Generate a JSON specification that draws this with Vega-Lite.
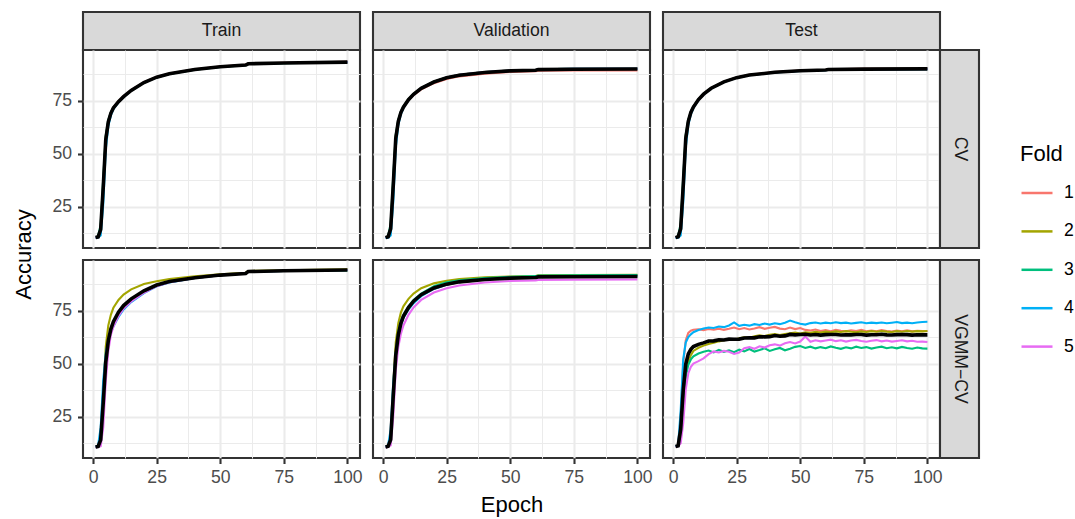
{
"$schema": "https://vega.github.io/schema/vega-lite/v6.json",
"background": "white",
"padding": {"left": 11, "top": 10, "right": 5, "bottom": 5},
"config": {
  "font": "Liberation Sans",
  "view": {"stroke": "#333333", "strokeWidth": 2.1},
  "axis": {"tickCount": 20, "labelColor": "#4D4D4D", "labelFontSize": 17.6, "titleFontSize": 22, "titleFontWeight": "normal", "titleColor": "#000000", "tickColor": "#333333", "tickWidth": 2.1, "tickSize": 5.5, "domain": false, "gridColor": "#EBEBEB", "labelPadding": 4.5, "labelOverlap": false, "labelFlush": false, "titlePadding": 9},
  "legend": {"symbolType": "stroke", "symbolSize": 961, "symbolStrokeWidth": 2.5, "labelFontSize": 17.6, "titleFontSize": 22, "titleFontWeight": "normal", "titleColor": "#000000", "labelColor": "#000000", "rowPadding": 12.4, "labelOffset": 10, "titlePadding": 10, "padding": 0}
},
"datasets": {
"ct": [
{"f":1,"e":1,"a":10.5},{"f":1,"e":2,"a":10.8},{"f":1,"e":3,"a":15},{"f":1,"e":4,"a":36},{"f":1,"e":5,"a":58},{"f":1,"e":6,"a":65.5},{"f":1,"e":7,"a":69.3},{"f":1,"e":8,"a":71.8},{"f":1,"e":10,"a":74.7},{"f":1,"e":12,"a":77},{"f":1,"e":15,"a":79.9},{"f":1,"e":20,"a":83.6},{"f":1,"e":25,"a":86.1},{"f":1,"e":30,"a":87.7},{"f":1,"e":40,"a":89.7},{"f":1,"e":50,"a":91.0},{"f":1,"e":60,"a":91.8},{"f":1,"e":61,"a":92.4},{"f":1,"e":75,"a":92.8},{"f":1,"e":100,"a":93.2},
{"f":2,"e":1,"a":10.7},{"f":2,"e":2,"a":10.9},{"f":2,"e":3,"a":14.5},{"f":2,"e":4,"a":35},{"f":2,"e":5,"a":57.5},{"f":2,"e":6,"a":65.3},{"f":2,"e":7,"a":69.2},{"f":2,"e":8,"a":71.6},{"f":2,"e":10,"a":74.6},{"f":2,"e":12,"a":76.9},{"f":2,"e":15,"a":79.8},{"f":2,"e":20,"a":83.5},{"f":2,"e":25,"a":86},{"f":2,"e":30,"a":87.6},{"f":2,"e":40,"a":89.6},{"f":2,"e":50,"a":90.9},{"f":2,"e":60,"a":91.7},{"f":2,"e":61,"a":92.3},{"f":2,"e":75,"a":92.7},{"f":2,"e":100,"a":93.1},
{"f":3,"e":1,"a":10.6},{"f":3,"e":2,"a":11.2},{"f":3,"e":3,"a":16.5},{"f":3,"e":4,"a":38},{"f":3,"e":5,"a":58.5},{"f":3,"e":6,"a":65.8},{"f":3,"e":7,"a":69.4},{"f":3,"e":8,"a":71.7},{"f":3,"e":10,"a":74.5},{"f":3,"e":12,"a":76.8},{"f":3,"e":15,"a":79.7},{"f":3,"e":20,"a":83.4},{"f":3,"e":25,"a":85.9},{"f":3,"e":30,"a":87.5},{"f":3,"e":40,"a":89.5},{"f":3,"e":50,"a":90.8},{"f":3,"e":60,"a":91.6},{"f":3,"e":61,"a":92.2},{"f":3,"e":75,"a":92.6},{"f":3,"e":100,"a":93.0},
{"f":4,"e":1,"a":10.4},{"f":4,"e":2,"a":10.5},{"f":4,"e":3,"a":11.5},{"f":4,"e":4,"a":26},{"f":4,"e":5,"a":52},{"f":4,"e":6,"a":63},{"f":4,"e":7,"a":68},{"f":4,"e":8,"a":71},{"f":4,"e":10,"a":74.2},{"f":4,"e":12,"a":76.6},{"f":4,"e":15,"a":79.7},{"f":4,"e":20,"a":83.5},{"f":4,"e":25,"a":86},{"f":4,"e":30,"a":87.6},{"f":4,"e":40,"a":89.6},{"f":4,"e":50,"a":90.9},{"f":4,"e":60,"a":91.7},{"f":4,"e":61,"a":92.3},{"f":4,"e":75,"a":92.7},{"f":4,"e":100,"a":93.1},
{"f":5,"e":1,"a":10.6},{"f":5,"e":2,"a":10.8},{"f":5,"e":3,"a":14},{"f":5,"e":4,"a":35},{"f":5,"e":5,"a":57},{"f":5,"e":6,"a":65},{"f":5,"e":7,"a":69},{"f":5,"e":8,"a":71.5},{"f":5,"e":10,"a":74.5},{"f":5,"e":12,"a":76.8},{"f":5,"e":15,"a":79.8},{"f":5,"e":20,"a":83.5},{"f":5,"e":25,"a":86},{"f":5,"e":30,"a":87.6},{"f":5,"e":40,"a":89.6},{"f":5,"e":50,"a":90.9},{"f":5,"e":60,"a":91.7},{"f":5,"e":61,"a":92.3},{"f":5,"e":75,"a":92.7},{"f":5,"e":100,"a":93.1}
],
"cv": [
{"f":1,"e":1,"a":10.6},{"f":1,"e":2,"a":11.0},{"f":1,"e":3,"a":15.5},{"f":1,"e":4,"a":37},{"f":1,"e":5,"a":58.5},{"f":1,"e":6,"a":65.6},{"f":1,"e":7,"a":69.4},{"f":1,"e":8,"a":71.8},{"f":1,"e":10,"a":75.2},{"f":1,"e":12,"a":77.6},{"f":1,"e":15,"a":80.3},{"f":1,"e":20,"a":83.2},{"f":1,"e":25,"a":85.2},{"f":1,"e":30,"a":86.4},{"f":1,"e":40,"a":87.7},{"f":1,"e":50,"a":88.5},{"f":1,"e":60,"a":88.8},{"f":1,"e":61,"a":89.1},{"f":1,"e":75,"a":89.2},{"f":1,"e":100,"a":89.2},
{"f":2,"e":1,"a":10.5},{"f":2,"e":2,"a":10.9},{"f":2,"e":3,"a":15},{"f":2,"e":4,"a":36},{"f":2,"e":5,"a":58},{"f":2,"e":6,"a":65.5},{"f":2,"e":7,"a":69.6},{"f":2,"e":8,"a":72.1},{"f":2,"e":10,"a":75.6},{"f":2,"e":12,"a":78.1},{"f":2,"e":15,"a":80.9},{"f":2,"e":20,"a":83.9},{"f":2,"e":25,"a":85.9},{"f":2,"e":30,"a":87.1},{"f":2,"e":40,"a":88.4},{"f":2,"e":50,"a":89.1},{"f":2,"e":60,"a":89.4},{"f":2,"e":61,"a":89.7},{"f":2,"e":75,"a":89.9},{"f":2,"e":100,"a":90.0},
{"f":3,"e":1,"a":10.4},{"f":3,"e":2,"a":11.3},{"f":3,"e":3,"a":17},{"f":3,"e":4,"a":39},{"f":3,"e":5,"a":59},{"f":3,"e":6,"a":66},{"f":3,"e":7,"a":69.8},{"f":3,"e":8,"a":72.2},{"f":3,"e":10,"a":75.6},{"f":3,"e":12,"a":78.1},{"f":3,"e":15,"a":80.9},{"f":3,"e":20,"a":83.9},{"f":3,"e":25,"a":85.9},{"f":3,"e":30,"a":87.1},{"f":3,"e":40,"a":88.4},{"f":3,"e":50,"a":89.1},{"f":3,"e":60,"a":89.4},{"f":3,"e":61,"a":89.7},{"f":3,"e":75,"a":89.9},{"f":3,"e":100,"a":90.0},
{"f":4,"e":1,"a":10.3},{"f":4,"e":2,"a":10.4},{"f":4,"e":3,"a":11.5},{"f":4,"e":4,"a":27},{"f":4,"e":5,"a":53},{"f":4,"e":6,"a":63.5},{"f":4,"e":7,"a":68.5},{"f":4,"e":8,"a":71.5},{"f":4,"e":10,"a":75.3},{"f":4,"e":12,"a":77.9},{"f":4,"e":15,"a":80.8},{"f":4,"e":20,"a":83.8},{"f":4,"e":25,"a":85.8},{"f":4,"e":30,"a":87},{"f":4,"e":40,"a":88.3},{"f":4,"e":50,"a":89},{"f":4,"e":60,"a":89.4},{"f":4,"e":61,"a":89.7},{"f":4,"e":75,"a":89.9},{"f":4,"e":100,"a":90.0},
{"f":5,"e":1,"a":10.5},{"f":5,"e":2,"a":10.8},{"f":5,"e":3,"a":14.5},{"f":5,"e":4,"a":35},{"f":5,"e":5,"a":57.5},{"f":5,"e":6,"a":65.3},{"f":5,"e":7,"a":69.4},{"f":5,"e":8,"a":71.9},{"f":5,"e":10,"a":75.4},{"f":5,"e":12,"a":77.9},{"f":5,"e":15,"a":80.8},{"f":5,"e":20,"a":83.8},{"f":5,"e":25,"a":85.9},{"f":5,"e":30,"a":87.1},{"f":5,"e":40,"a":88.4},{"f":5,"e":50,"a":89.1},{"f":5,"e":60,"a":89.4},{"f":5,"e":61,"a":89.7},{"f":5,"e":75,"a":89.9},{"f":5,"e":100,"a":90.0}
],
"cs": [
{"f":1,"e":1,"a":10.6},{"f":1,"e":2,"a":11.0},{"f":1,"e":3,"a":15.5},{"f":1,"e":4,"a":37},{"f":1,"e":5,"a":58.5},{"f":1,"e":6,"a":65.8},{"f":1,"e":7,"a":69.7},{"f":1,"e":8,"a":72.2},{"f":1,"e":10,"a":75.6},{"f":1,"e":12,"a":78.1},{"f":1,"e":15,"a":80.9},{"f":1,"e":20,"a":83.9},{"f":1,"e":25,"a":85.9},{"f":1,"e":30,"a":87.1},{"f":1,"e":40,"a":88.4},{"f":1,"e":50,"a":89.1},{"f":1,"e":60,"a":89.5},{"f":1,"e":61,"a":89.7},{"f":1,"e":75,"a":89.9},{"f":1,"e":100,"a":90.0},
{"f":2,"e":1,"a":10.5},{"f":2,"e":2,"a":10.9},{"f":2,"e":3,"a":15},{"f":2,"e":4,"a":36},{"f":2,"e":5,"a":58},{"f":2,"e":6,"a":65.5},{"f":2,"e":7,"a":69.5},{"f":2,"e":8,"a":72},{"f":2,"e":10,"a":75.5},{"f":2,"e":12,"a":78},{"f":2,"e":15,"a":80.8},{"f":2,"e":20,"a":83.8},{"f":2,"e":25,"a":85.8},{"f":2,"e":30,"a":87},{"f":2,"e":40,"a":88.3},{"f":2,"e":50,"a":89},{"f":2,"e":60,"a":89.4},{"f":2,"e":61,"a":89.6},{"f":2,"e":75,"a":89.8},{"f":2,"e":100,"a":89.9},
{"f":3,"e":1,"a":10.4},{"f":3,"e":2,"a":11.3},{"f":3,"e":3,"a":17},{"f":3,"e":4,"a":39},{"f":3,"e":5,"a":59},{"f":3,"e":6,"a":66},{"f":3,"e":7,"a":69.8},{"f":3,"e":8,"a":72.2},{"f":3,"e":10,"a":75.6},{"f":3,"e":12,"a":78.1},{"f":3,"e":15,"a":80.8},{"f":3,"e":20,"a":83.8},{"f":3,"e":25,"a":85.8},{"f":3,"e":30,"a":87},{"f":3,"e":40,"a":88.3},{"f":3,"e":50,"a":89},{"f":3,"e":60,"a":89.4},{"f":3,"e":61,"a":89.6},{"f":3,"e":75,"a":89.8},{"f":3,"e":100,"a":89.9},
{"f":4,"e":1,"a":10.3},{"f":4,"e":2,"a":10.4},{"f":4,"e":3,"a":11.5},{"f":4,"e":4,"a":27},{"f":4,"e":5,"a":53},{"f":4,"e":6,"a":63.5},{"f":4,"e":7,"a":68.5},{"f":4,"e":8,"a":71.5},{"f":4,"e":10,"a":75.3},{"f":4,"e":12,"a":77.9},{"f":4,"e":15,"a":80.7},{"f":4,"e":20,"a":83.7},{"f":4,"e":25,"a":85.7},{"f":4,"e":30,"a":86.9},{"f":4,"e":40,"a":88.2},{"f":4,"e":50,"a":88.9},{"f":4,"e":60,"a":89.3},{"f":4,"e":61,"a":89.5},{"f":4,"e":75,"a":89.7},{"f":4,"e":100,"a":89.8},
{"f":5,"e":1,"a":10.5},{"f":5,"e":2,"a":10.8},{"f":5,"e":3,"a":14.5},{"f":5,"e":4,"a":35},{"f":5,"e":5,"a":57.5},{"f":5,"e":6,"a":65.3},{"f":5,"e":7,"a":69.4},{"f":5,"e":8,"a":71.9},{"f":5,"e":10,"a":75.4},{"f":5,"e":12,"a":77.9},{"f":5,"e":15,"a":80.8},{"f":5,"e":20,"a":83.8},{"f":5,"e":25,"a":85.8},{"f":5,"e":30,"a":87},{"f":5,"e":40,"a":88.3},{"f":5,"e":50,"a":89},{"f":5,"e":60,"a":89.4},{"f":5,"e":61,"a":89.6},{"f":5,"e":75,"a":89.8},{"f":5,"e":100,"a":89.9}
],
"vt": [
{"f":1,"e":1,"a":10.8},{"f":1,"e":2,"a":11},{"f":1,"e":3,"a":13},{"f":1,"e":4,"a":30},{"f":1,"e":5,"a":50},{"f":1,"e":6,"a":60},{"f":1,"e":7,"a":65.5},{"f":1,"e":8,"a":69},{"f":1,"e":10,"a":73.5},{"f":1,"e":12,"a":76.5},{"f":1,"e":15,"a":79.8},{"f":1,"e":20,"a":83.8},{"f":1,"e":25,"a":86.8},{"f":1,"e":30,"a":88.5},{"f":1,"e":40,"a":90.4},{"f":1,"e":50,"a":91.6},{"f":1,"e":60,"a":92.4},{"f":1,"e":61,"a":93.3},{"f":1,"e":75,"a":93.7},{"f":1,"e":100,"a":94.1},
{"f":2,"e":1,"a":10.9},{"f":2,"e":2,"a":11.1},{"f":2,"e":3,"a":14},{"f":2,"e":4,"a":36},{"f":2,"e":5,"a":58},{"f":2,"e":6,"a":68},{"f":2,"e":7,"a":73},{"f":2,"e":8,"a":76.3},{"f":2,"e":10,"a":80},{"f":2,"e":12,"a":82.5},{"f":2,"e":15,"a":85},{"f":2,"e":20,"a":87.5},{"f":2,"e":25,"a":88.8},{"f":2,"e":30,"a":89.8},{"f":2,"e":40,"a":91.1},{"f":2,"e":50,"a":92.1},{"f":2,"e":60,"a":92.8},{"f":2,"e":61,"a":93.6},{"f":2,"e":75,"a":94},{"f":2,"e":100,"a":94.4},
{"f":3,"e":1,"a":10.7},{"f":3,"e":2,"a":10.9},{"f":3,"e":3,"a":12.5},{"f":3,"e":4,"a":30},{"f":3,"e":5,"a":49},{"f":3,"e":6,"a":59},{"f":3,"e":7,"a":65},{"f":3,"e":8,"a":68.5},{"f":3,"e":10,"a":73},{"f":3,"e":12,"a":76.3},{"f":3,"e":15,"a":79.5},{"f":3,"e":20,"a":83.5},{"f":3,"e":25,"a":86.6},{"f":3,"e":30,"a":88.4},{"f":3,"e":40,"a":90.3},{"f":3,"e":50,"a":91.6},{"f":3,"e":60,"a":92.4},{"f":3,"e":61,"a":93.3},{"f":3,"e":75,"a":93.6},{"f":3,"e":100,"a":93.9},
{"f":4,"e":1,"a":10.8},{"f":4,"e":2,"a":11.5},{"f":4,"e":3,"a":20},{"f":4,"e":4,"a":42},{"f":4,"e":5,"a":55},{"f":4,"e":6,"a":61},{"f":4,"e":7,"a":64.5},{"f":4,"e":8,"a":67.5},{"f":4,"e":10,"a":72},{"f":4,"e":12,"a":75.5},{"f":4,"e":15,"a":79},{"f":4,"e":20,"a":83.2},{"f":4,"e":25,"a":86.4},{"f":4,"e":30,"a":88.2},{"f":4,"e":40,"a":90.3},{"f":4,"e":50,"a":91.6},{"f":4,"e":60,"a":92.4},{"f":4,"e":61,"a":93.3},{"f":4,"e":75,"a":93.7},{"f":4,"e":100,"a":94.1},
{"f":5,"e":1,"a":10.6},{"f":5,"e":2,"a":10.8},{"f":5,"e":3,"a":11.2},{"f":5,"e":4,"a":20},{"f":5,"e":5,"a":42},{"f":5,"e":6,"a":56},{"f":5,"e":7,"a":63.5},{"f":5,"e":8,"a":67.5},{"f":5,"e":10,"a":72.5},{"f":5,"e":12,"a":76},{"f":5,"e":15,"a":79.3},{"f":5,"e":20,"a":83.4},{"f":5,"e":25,"a":86.5},{"f":5,"e":30,"a":88.3},{"f":5,"e":40,"a":90.3},{"f":5,"e":50,"a":91.6},{"f":5,"e":60,"a":92.4},{"f":5,"e":61,"a":93.3},{"f":5,"e":75,"a":93.7},{"f":5,"e":100,"a":94.1}
],
"vv": [
{"f":1,"e":1,"a":10.8},{"f":1,"e":2,"a":11},{"f":1,"e":3,"a":13.5},{"f":1,"e":4,"a":33},{"f":1,"e":5,"a":53},{"f":1,"e":6,"a":63},{"f":1,"e":7,"a":68.5},{"f":1,"e":8,"a":72},{"f":1,"e":10,"a":76},{"f":1,"e":12,"a":79},{"f":1,"e":15,"a":82},{"f":1,"e":20,"a":85.3},{"f":1,"e":25,"a":87.2},{"f":1,"e":30,"a":88.3},{"f":1,"e":40,"a":89.5},{"f":1,"e":50,"a":90.2},{"f":1,"e":60,"a":90.5},{"f":1,"e":61,"a":90.8},{"f":1,"e":75,"a":90.9},{"f":1,"e":100,"a":91.0},
{"f":2,"e":1,"a":10.9},{"f":2,"e":2,"a":11.1},{"f":2,"e":3,"a":14},{"f":2,"e":4,"a":40},{"f":2,"e":5,"a":60},{"f":2,"e":6,"a":69},{"f":2,"e":7,"a":74},{"f":2,"e":8,"a":77},{"f":2,"e":10,"a":80.5},{"f":2,"e":12,"a":83},{"f":2,"e":15,"a":85.5},{"f":2,"e":20,"a":87.8},{"f":2,"e":25,"a":89},{"f":2,"e":30,"a":89.8},{"f":2,"e":40,"a":90.6},{"f":2,"e":50,"a":91},{"f":2,"e":60,"a":91.3},{"f":2,"e":61,"a":91.6},{"f":2,"e":75,"a":91.7},{"f":2,"e":100,"a":91.8},
{"f":3,"e":1,"a":10.7},{"f":3,"e":2,"a":10.9},{"f":3,"e":3,"a":13},{"f":3,"e":4,"a":34},{"f":3,"e":5,"a":55},{"f":3,"e":6,"a":65},{"f":3,"e":7,"a":70},{"f":3,"e":8,"a":73},{"f":3,"e":10,"a":77},{"f":3,"e":12,"a":80},{"f":3,"e":15,"a":83},{"f":3,"e":20,"a":86.5},{"f":3,"e":25,"a":88.3},{"f":3,"e":30,"a":89.3},{"f":3,"e":40,"a":90.3},{"f":3,"e":50,"a":90.9},{"f":3,"e":60,"a":91.2},{"f":3,"e":61,"a":91.5},{"f":3,"e":75,"a":91.6},{"f":3,"e":100,"a":91.7},
{"f":4,"e":1,"a":10.8},{"f":4,"e":2,"a":11.6},{"f":4,"e":3,"a":19},{"f":4,"e":4,"a":41},{"f":4,"e":5,"a":55},{"f":4,"e":6,"a":63},{"f":4,"e":7,"a":68},{"f":4,"e":8,"a":71.5},{"f":4,"e":10,"a":75.5},{"f":4,"e":12,"a":78.5},{"f":4,"e":15,"a":81.8},{"f":4,"e":20,"a":85.2},{"f":4,"e":25,"a":87.2},{"f":4,"e":30,"a":88.4},{"f":4,"e":40,"a":89.6},{"f":4,"e":50,"a":90.3},{"f":4,"e":60,"a":90.6},{"f":4,"e":61,"a":90.9},{"f":4,"e":75,"a":91.0},{"f":4,"e":100,"a":91.1},
{"f":5,"e":1,"a":10.6},{"f":5,"e":2,"a":10.8},{"f":5,"e":3,"a":11.5},{"f":5,"e":4,"a":25},{"f":5,"e":5,"a":47},{"f":5,"e":6,"a":58},{"f":5,"e":7,"a":64},{"f":5,"e":8,"a":68},{"f":5,"e":10,"a":73},{"f":5,"e":12,"a":76.5},{"f":5,"e":15,"a":80},{"f":5,"e":20,"a":83.5},{"f":5,"e":25,"a":85.5},{"f":5,"e":30,"a":86.8},{"f":5,"e":40,"a":88.2},{"f":5,"e":50,"a":88.9},{"f":5,"e":60,"a":89.2},{"f":5,"e":61,"a":89.4},{"f":5,"e":75,"a":89.5},{"f":5,"e":100,"a":89.6}
],
"vs": [
{"f":1,"e":1,"a":11.2},{"f":1,"e":2,"a":11.5},{"f":1,"e":3,"a":25},{"f":1,"e":4,"a":50},{"f":1,"e":5,"a":61},{"f":1,"e":6,"a":64.5},{"f":1,"e":7,"a":65.5},{"f":1,"e":8,"a":66},{"f":1,"e":10,"a":66.2},{"f":1,"e":12,"a":65.8},{"f":1,"e":14,"a":66.3},{"f":1,"e":16,"a":66.0},{"f":1,"e":18,"a":66.5},{"f":1,"e":20,"a":65.9},{"f":1,"e":22,"a":66.4},{"f":1,"e":24,"a":67.0},{"f":1,"e":26,"a":66.2},{"f":1,"e":28,"a":66.8},{"f":1,"e":30,"a":66.1},{"f":1,"e":32,"a":66.6},{"f":1,"e":34,"a":67.2},{"f":1,"e":36,"a":66.4},{"f":1,"e":38,"a":66.9},{"f":1,"e":40,"a":67.3},{"f":1,"e":42,"a":66.5},{"f":1,"e":44,"a":66.2},{"f":1,"e":46,"a":67.0},{"f":1,"e":48,"a":66.3},{"f":1,"e":50,"a":66.8},{"f":1,"e":52,"a":65.9},{"f":1,"e":54,"a":65.6},{"f":1,"e":56,"a":66.1},{"f":1,"e":58,"a":65.4},{"f":1,"e":60,"a":65.8},{"f":1,"e":62,"a":65.3},{"f":1,"e":64,"a":65.9},{"f":1,"e":66,"a":65.5},{"f":1,"e":68,"a":65.2},{"f":1,"e":70,"a":65.7},{"f":1,"e":72,"a":65.4},{"f":1,"e":74,"a":65.9},{"f":1,"e":76,"a":65.3},{"f":1,"e":78,"a":65.6},{"f":1,"e":80,"a":65.2},{"f":1,"e":82,"a":65.8},{"f":1,"e":84,"a":65.4},{"f":1,"e":86,"a":65.1},{"f":1,"e":88,"a":65.6},{"f":1,"e":90,"a":65.3},{"f":1,"e":92,"a":65.7},{"f":1,"e":94,"a":65.2},{"f":1,"e":96,"a":65.5},{"f":1,"e":98,"a":65.3},{"f":1,"e":100,"a":65.4},
{"f":2,"e":1,"a":11.0},{"f":2,"e":2,"a":11.3},{"f":2,"e":3,"a":16},{"f":2,"e":4,"a":34},{"f":2,"e":5,"a":46},{"f":2,"e":6,"a":51},{"f":2,"e":7,"a":54},{"f":2,"e":8,"a":56},{"f":2,"e":10,"a":57.5},{"f":2,"e":12,"a":58.5},{"f":2,"e":14,"a":59.3},{"f":2,"e":16,"a":59.8},{"f":2,"e":18,"a":60.5},{"f":2,"e":20,"a":61.0},{"f":2,"e":22,"a":61.4},{"f":2,"e":24,"a":61.2},{"f":2,"e":26,"a":62.0},{"f":2,"e":28,"a":62.4},{"f":2,"e":30,"a":62.2},{"f":2,"e":32,"a":62.9},{"f":2,"e":34,"a":63.3},{"f":2,"e":36,"a":63.0},{"f":2,"e":38,"a":63.6},{"f":2,"e":40,"a":63.9},{"f":2,"e":42,"a":63.5},{"f":2,"e":44,"a":64.0},{"f":2,"e":46,"a":64.3},{"f":2,"e":48,"a":64.6},{"f":2,"e":50,"a":64.2},{"f":2,"e":52,"a":64.8},{"f":2,"e":54,"a":64.5},{"f":2,"e":56,"a":65.0},{"f":2,"e":58,"a":64.7},{"f":2,"e":60,"a":65.1},{"f":2,"e":62,"a":64.8},{"f":2,"e":64,"a":65.2},{"f":2,"e":66,"a":64.9},{"f":2,"e":68,"a":65.3},{"f":2,"e":70,"a":65.0},{"f":2,"e":72,"a":64.8},{"f":2,"e":74,"a":65.2},{"f":2,"e":76,"a":64.9},{"f":2,"e":78,"a":65.3},{"f":2,"e":80,"a":65.0},{"f":2,"e":82,"a":65.4},{"f":2,"e":84,"a":65.1},{"f":2,"e":86,"a":64.9},{"f":2,"e":88,"a":65.3},{"f":2,"e":90,"a":65.0},{"f":2,"e":92,"a":65.4},{"f":2,"e":94,"a":65.1},{"f":2,"e":96,"a":65.3},{"f":2,"e":98,"a":65.2},{"f":2,"e":100,"a":65.4},
{"f":3,"e":1,"a":11.1},{"f":3,"e":2,"a":11.3},{"f":3,"e":3,"a":14},{"f":3,"e":4,"a":30},{"f":3,"e":5,"a":44},{"f":3,"e":6,"a":49.5},{"f":3,"e":7,"a":52},{"f":3,"e":8,"a":53.5},{"f":3,"e":10,"a":54.8},{"f":3,"e":12,"a":55.6},{"f":3,"e":14,"a":56.2},{"f":3,"e":16,"a":55.3},{"f":3,"e":18,"a":56.5},{"f":3,"e":20,"a":55.6},{"f":3,"e":22,"a":56.3},{"f":3,"e":24,"a":55.4},{"f":3,"e":26,"a":56.6},{"f":3,"e":28,"a":55.8},{"f":3,"e":30,"a":56.9},{"f":3,"e":32,"a":55.7},{"f":3,"e":34,"a":56.4},{"f":3,"e":36,"a":57.2},{"f":3,"e":38,"a":56.0},{"f":3,"e":40,"a":56.8},{"f":3,"e":42,"a":57.4},{"f":3,"e":44,"a":56.3},{"f":3,"e":46,"a":57.0},{"f":3,"e":48,"a":57.9},{"f":3,"e":50,"a":58.3},{"f":3,"e":52,"a":57.4},{"f":3,"e":54,"a":58.0},{"f":3,"e":56,"a":57.2},{"f":3,"e":58,"a":57.8},{"f":3,"e":60,"a":57.3},{"f":3,"e":62,"a":58.1},{"f":3,"e":64,"a":57.5},{"f":3,"e":66,"a":57.0},{"f":3,"e":68,"a":57.7},{"f":3,"e":70,"a":57.2},{"f":3,"e":72,"a":58.0},{"f":3,"e":74,"a":57.4},{"f":3,"e":76,"a":57.8},{"f":3,"e":78,"a":57.1},{"f":3,"e":80,"a":57.6},{"f":3,"e":82,"a":58.0},{"f":3,"e":84,"a":57.3},{"f":3,"e":86,"a":57.7},{"f":3,"e":88,"a":57.2},{"f":3,"e":90,"a":57.9},{"f":3,"e":92,"a":57.4},{"f":3,"e":94,"a":57.0},{"f":3,"e":96,"a":57.6},{"f":3,"e":98,"a":57.2},{"f":3,"e":100,"a":57.1},
{"f":4,"e":1,"a":11.0},{"f":4,"e":2,"a":11.6},{"f":4,"e":3,"a":28},{"f":4,"e":4,"a":52},{"f":4,"e":5,"a":60},{"f":4,"e":6,"a":62.5},{"f":4,"e":7,"a":63.8},{"f":4,"e":8,"a":64.8},{"f":4,"e":10,"a":65.8},{"f":4,"e":12,"a":66.6},{"f":4,"e":14,"a":67.0},{"f":4,"e":16,"a":66.8},{"f":4,"e":18,"a":67.5},{"f":4,"e":20,"a":67.2},{"f":4,"e":22,"a":68.0},{"f":4,"e":24,"a":69.4},{"f":4,"e":26,"a":67.8},{"f":4,"e":28,"a":68.3},{"f":4,"e":30,"a":67.9},{"f":4,"e":32,"a":68.6},{"f":4,"e":34,"a":68.2},{"f":4,"e":36,"a":68.9},{"f":4,"e":38,"a":68.4},{"f":4,"e":40,"a":69.0},{"f":4,"e":42,"a":68.6},{"f":4,"e":44,"a":69.3},{"f":4,"e":46,"a":70.3},{"f":4,"e":48,"a":69.5},{"f":4,"e":50,"a":68.8},{"f":4,"e":52,"a":68.4},{"f":4,"e":54,"a":69.1},{"f":4,"e":56,"a":69.4},{"f":4,"e":58,"a":68.9},{"f":4,"e":60,"a":69.3},{"f":4,"e":62,"a":69.0},{"f":4,"e":64,"a":69.5},{"f":4,"e":66,"a":69.1},{"f":4,"e":68,"a":69.3},{"f":4,"e":70,"a":68.9},{"f":4,"e":72,"a":69.2},{"f":4,"e":74,"a":69.5},{"f":4,"e":76,"a":69.0},{"f":4,"e":78,"a":69.3},{"f":4,"e":80,"a":69.1},{"f":4,"e":82,"a":69.4},{"f":4,"e":84,"a":69.0},{"f":4,"e":86,"a":69.3},{"f":4,"e":88,"a":69.6},{"f":4,"e":90,"a":69.1},{"f":4,"e":92,"a":69.3},{"f":4,"e":94,"a":69.0},{"f":4,"e":96,"a":69.4},{"f":4,"e":98,"a":69.6},{"f":4,"e":100,"a":69.7},
{"f":5,"e":1,"a":10.9},{"f":5,"e":2,"a":11.1},{"f":5,"e":3,"a":12.5},{"f":5,"e":4,"a":22},{"f":5,"e":5,"a":38},{"f":5,"e":6,"a":45.5},{"f":5,"e":7,"a":48.5},{"f":5,"e":8,"a":50},{"f":5,"e":10,"a":51.2},{"f":5,"e":12,"a":52.5},{"f":5,"e":14,"a":54.5},{"f":5,"e":16,"a":55.8},{"f":5,"e":18,"a":55.3},{"f":5,"e":20,"a":56.0},{"f":5,"e":22,"a":55.6},{"f":5,"e":24,"a":54.6},{"f":5,"e":26,"a":55.2},{"f":5,"e":28,"a":57.3},{"f":5,"e":30,"a":57.8},{"f":5,"e":32,"a":57.0},{"f":5,"e":34,"a":58.2},{"f":5,"e":36,"a":57.6},{"f":5,"e":38,"a":58.7},{"f":5,"e":40,"a":59.1},{"f":5,"e":42,"a":58.5},{"f":5,"e":44,"a":59.6},{"f":5,"e":46,"a":60.2},{"f":5,"e":48,"a":59.5},{"f":5,"e":50,"a":60.4},{"f":5,"e":52,"a":62.8},{"f":5,"e":54,"a":60.3},{"f":5,"e":56,"a":61.0},{"f":5,"e":58,"a":60.5},{"f":5,"e":60,"a":60.9},{"f":5,"e":62,"a":61.3},{"f":5,"e":64,"a":60.6},{"f":5,"e":66,"a":61.0},{"f":5,"e":68,"a":60.4},{"f":5,"e":70,"a":60.9},{"f":5,"e":72,"a":61.2},{"f":5,"e":74,"a":60.7},{"f":5,"e":76,"a":60.3},{"f":5,"e":78,"a":60.8},{"f":5,"e":80,"a":61.1},{"f":5,"e":82,"a":60.5},{"f":5,"e":84,"a":60.9},{"f":5,"e":86,"a":60.4},{"f":5,"e":88,"a":60.7},{"f":5,"e":90,"a":61.0},{"f":5,"e":92,"a":60.5},{"f":5,"e":94,"a":60.8},{"f":5,"e":96,"a":60.3},{"f":5,"e":98,"a":60.4},{"f":5,"e":100,"a":60.2}
]
},
"columns": 6,
"spacing": 0,
"bounds": "flush",
"align": "each",
"concat": [
{"width": 277, "height": 38, "data": {"values": [{"t": "Train"}]}, "view": {"fill": "#D9D9D9", "stroke": "#333333", "strokeWidth": 2.1}, "mark": {"type": "text", "fontSize": 17.6, "color": "#1A1A1A"}, "encoding": {"text": {"field": "t"}}},
{"width": 13, "height": 38, "data": {"values": []}, "mark": "point", "view": {"stroke": null}},
{"width": 277, "height": 38, "data": {"values": [{"t": "Validation"}]}, "view": {"fill": "#D9D9D9", "stroke": "#333333", "strokeWidth": 2.1}, "mark": {"type": "text", "fontSize": 17.6, "color": "#1A1A1A"}, "encoding": {"text": {"field": "t"}}},
{"width": 13, "height": 38, "data": {"values": []}, "mark": "point", "view": {"stroke": null}},
{"width": 277, "height": 38, "data": {"values": [{"t": "Test"}]}, "view": {"fill": "#D9D9D9", "stroke": "#333333", "strokeWidth": 2.1}, "mark": {"type": "text", "fontSize": 17.6, "color": "#1A1A1A"}, "encoding": {"text": {"field": "t"}}},
{"width": 39, "height": 38, "data": {"values": []}, "mark": "point", "view": {"stroke": null}},

{"width": 277, "height": 198, "data": {"name": "ct"}, "layer": [
 {"mark": {"type": "line", "strokeWidth": 2.1}, "encoding": {
  "x": {"field": "e", "type": "quantitative", "scale": {"domain": [-3.95, 104.95], "nice": false, "zero": false}, "axis": {"tickCount": 20, "values": [0,12.5,25,37.5,50,62.5,75,87.5,100], "labels": false, "ticks": false, "title": null, "gridWidth": {"condition": {"test": "datum.value % 25 === 0", "value": 2.1}, "value": 1.05}}},
  "y": {"field": "a", "type": "quantitative", "scale": {"domain": [5.6, 98.8], "nice": false, "zero": false}, "axis": {"tickCount": 20, "values": [12.5,25,37.5,50,62.5,75,87.5], "labelPadding": 6, "labelExpr": "datum.value % 25 === 0 ? datum.label : ''", "tickOpacity": {"condition": {"test": "datum.value % 25 === 0", "value": 1}, "value": 0}, "gridWidth": {"condition": {"test": "datum.value % 25 === 0", "value": 2.1}, "value": 1.05}, "title": "Accuracy", "titleY": 204, "titlePadding": 16}},
  "color": {"field": "f", "type": "nominal", "scale": {"domain": [1,2,3,4,5], "range": ["#F8766D","#A3A500","#00BF7D","#00B0F6","#E76BF3"]}, "legend": {"title": "Fold", "orient": "none", "legendX": 937, "legendY": 132}}}},
 {"mark": {"type": "line", "color": "#000000", "strokeWidth": 3.6}, "encoding": {
  "x": {"field": "e", "type": "quantitative"},
  "y": {"field": "a", "type": "quantitative", "aggregate": "mean"}}}
]},
{"width": 13, "height": 1, "data": {"values": []}, "mark": "point", "view": {"stroke": null}},
{"width": 277, "height": 198, "data": {"name": "cv"}, "layer": [
 {"mark": {"type": "line", "strokeWidth": 2.1}, "encoding": {
  "x": {"field": "e", "type": "quantitative", "scale": {"domain": [-3.95, 104.95], "nice": false, "zero": false}, "axis": {"tickCount": 20, "values": [0,12.5,25,37.5,50,62.5,75,87.5,100], "labels": false, "ticks": false, "title": null, "gridWidth": {"condition": {"test": "datum.value % 25 === 0", "value": 2.1}, "value": 1.05}}},
  "y": {"field": "a", "type": "quantitative", "scale": {"domain": [5.6, 98.8], "nice": false, "zero": false}, "axis": {"tickCount": 20, "values": [12.5,25,37.5,50,62.5,75,87.5], "labels": false, "ticks": false, "title": null, "gridWidth": {"condition": {"test": "datum.value % 25 === 0", "value": 2.1}, "value": 1.05}}},
  "color": {"field": "f", "type": "nominal", "scale": {"domain": [1,2,3,4,5], "range": ["#F8766D","#A3A500","#00BF7D","#00B0F6","#E76BF3"]}, "legend": {"title": "Fold", "orient": "none", "legendX": 937, "legendY": 132}}}},
 {"mark": {"type": "line", "color": "#000000", "strokeWidth": 3.6}, "encoding": {
  "x": {"field": "e", "type": "quantitative"},
  "y": {"field": "a", "type": "quantitative", "aggregate": "mean"}}}
]},
{"width": 13, "height": 1, "data": {"values": []}, "mark": "point", "view": {"stroke": null}},
{"width": 277, "height": 198, "data": {"name": "cs"}, "layer": [
 {"mark": {"type": "line", "strokeWidth": 2.1}, "encoding": {
  "x": {"field": "e", "type": "quantitative", "scale": {"domain": [-3.95, 104.95], "nice": false, "zero": false}, "axis": {"tickCount": 20, "values": [0,12.5,25,37.5,50,62.5,75,87.5,100], "labels": false, "ticks": false, "title": null, "gridWidth": {"condition": {"test": "datum.value % 25 === 0", "value": 2.1}, "value": 1.05}}},
  "y": {"field": "a", "type": "quantitative", "scale": {"domain": [5.6, 98.8], "nice": false, "zero": false}, "axis": {"tickCount": 20, "values": [12.5,25,37.5,50,62.5,75,87.5], "labels": false, "ticks": false, "title": null, "gridWidth": {"condition": {"test": "datum.value % 25 === 0", "value": 2.1}, "value": 1.05}}},
  "color": {"field": "f", "type": "nominal", "scale": {"domain": [1,2,3,4,5], "range": ["#F8766D","#A3A500","#00BF7D","#00B0F6","#E76BF3"]}, "legend": {"title": "Fold", "orient": "none", "legendX": 937, "legendY": 132}}}},
 {"mark": {"type": "line", "color": "#000000", "strokeWidth": 3.6}, "encoding": {
  "x": {"field": "e", "type": "quantitative"},
  "y": {"field": "a", "type": "quantitative", "aggregate": "mean"}}}
]},
{"width": 39, "height": 198, "data": {"values": [{"t": "CV"}]}, "view": {"fill": "#D9D9D9", "stroke": "#333333", "strokeWidth": 2.1}, "mark": {"type": "text", "fontSize": 17.6, "color": "#1A1A1A", "angle": 90}, "encoding": {"text": {"field": "t"}}},

{"width": 1, "height": 12, "data": {"values": []}, "mark": "point", "view": {"stroke": null}},
{"width": 1, "height": 12, "data": {"values": []}, "mark": "point", "view": {"stroke": null}},
{"width": 1, "height": 12, "data": {"values": []}, "mark": "point", "view": {"stroke": null}},
{"width": 1, "height": 12, "data": {"values": []}, "mark": "point", "view": {"stroke": null}},
{"width": 1, "height": 12, "data": {"values": []}, "mark": "point", "view": {"stroke": null}},
{"width": 1, "height": 12, "data": {"values": []}, "mark": "point", "view": {"stroke": null}},

{"width": 277, "height": 198, "data": {"name": "vt"}, "layer": [
 {"mark": {"type": "line", "strokeWidth": 2.1}, "encoding": {
  "x": {"field": "e", "type": "quantitative", "scale": {"domain": [-3.95, 104.95], "nice": false, "zero": false}, "axis": {"tickCount": 20, "values": [0,12.5,25,37.5,50,62.5,75,87.5,100], "labelExpr": "datum.value % 25 === 0 ? datum.label : ''", "tickOpacity": {"condition": {"test": "datum.value % 25 === 0", "value": 1}, "value": 0}, "gridWidth": {"condition": {"test": "datum.value % 25 === 0", "value": 2.1}, "value": 1.05}, "title": null}},
  "y": {"field": "a", "type": "quantitative", "scale": {"domain": [5.6, 98.8], "nice": false, "zero": false}, "axis": {"tickCount": 20, "values": [12.5,25,37.5,50,62.5,75,87.5], "labelPadding": 6, "labelExpr": "datum.value % 25 === 0 ? datum.label : ''", "tickOpacity": {"condition": {"test": "datum.value % 25 === 0", "value": 1}, "value": 0}, "gridWidth": {"condition": {"test": "datum.value % 25 === 0", "value": 2.1}, "value": 1.05}, "title": null}},
  "color": {"field": "f", "type": "nominal", "scale": {"domain": [1,2,3,4,5], "range": ["#F8766D","#A3A500","#00BF7D","#00B0F6","#E76BF3"]}, "legend": {"title": "Fold", "orient": "none", "legendX": 937, "legendY": 132}}}},
 {"mark": {"type": "line", "color": "#000000", "strokeWidth": 3.6}, "encoding": {
  "x": {"field": "e", "type": "quantitative"},
  "y": {"field": "a", "type": "quantitative", "aggregate": "mean"}}}
]},
{"width": 13, "height": 1, "data": {"values": []}, "mark": "point", "view": {"stroke": null}},
{"width": 277, "height": 198, "data": {"name": "vv"}, "layer": [
 {"mark": {"type": "line", "strokeWidth": 2.1}, "encoding": {
  "x": {"field": "e", "type": "quantitative", "scale": {"domain": [-3.95, 104.95], "nice": false, "zero": false}, "axis": {"tickCount": 20, "values": [0,12.5,25,37.5,50,62.5,75,87.5,100], "labelExpr": "datum.value % 25 === 0 ? datum.label : ''", "tickOpacity": {"condition": {"test": "datum.value % 25 === 0", "value": 1}, "value": 0}, "gridWidth": {"condition": {"test": "datum.value % 25 === 0", "value": 2.1}, "value": 1.05}, "title": "Epoch", "titlePadding": 9}},
  "y": {"field": "a", "type": "quantitative", "scale": {"domain": [5.6, 98.8], "nice": false, "zero": false}, "axis": {"tickCount": 20, "values": [12.5,25,37.5,50,62.5,75,87.5], "labels": false, "ticks": false, "title": null, "gridWidth": {"condition": {"test": "datum.value % 25 === 0", "value": 2.1}, "value": 1.05}}},
  "color": {"field": "f", "type": "nominal", "scale": {"domain": [1,2,3,4,5], "range": ["#F8766D","#A3A500","#00BF7D","#00B0F6","#E76BF3"]}, "legend": {"title": "Fold", "orient": "none", "legendX": 937, "legendY": 132}}}},
 {"mark": {"type": "line", "color": "#000000", "strokeWidth": 3.6}, "encoding": {
  "x": {"field": "e", "type": "quantitative"},
  "y": {"field": "a", "type": "quantitative", "aggregate": "mean"}}}
]},
{"width": 13, "height": 1, "data": {"values": []}, "mark": "point", "view": {"stroke": null}},
{"width": 277, "height": 198, "data": {"name": "vs"}, "layer": [
 {"mark": {"type": "line", "strokeWidth": 2.1}, "encoding": {
  "x": {"field": "e", "type": "quantitative", "scale": {"domain": [-3.95, 104.95], "nice": false, "zero": false}, "axis": {"tickCount": 20, "values": [0,12.5,25,37.5,50,62.5,75,87.5,100], "labelExpr": "datum.value % 25 === 0 ? datum.label : ''", "tickOpacity": {"condition": {"test": "datum.value % 25 === 0", "value": 1}, "value": 0}, "gridWidth": {"condition": {"test": "datum.value % 25 === 0", "value": 2.1}, "value": 1.05}, "title": null}},
  "y": {"field": "a", "type": "quantitative", "scale": {"domain": [5.6, 98.8], "nice": false, "zero": false}, "axis": {"tickCount": 20, "values": [12.5,25,37.5,50,62.5,75,87.5], "labels": false, "ticks": false, "title": null, "gridWidth": {"condition": {"test": "datum.value % 25 === 0", "value": 2.1}, "value": 1.05}}},
  "color": {"field": "f", "type": "nominal", "scale": {"domain": [1,2,3,4,5], "range": ["#F8766D","#A3A500","#00BF7D","#00B0F6","#E76BF3"]}, "legend": {"title": "Fold", "orient": "none", "legendX": 937, "legendY": 132}}}},
 {"mark": {"type": "line", "color": "#000000", "strokeWidth": 3.6}, "encoding": {
  "x": {"field": "e", "type": "quantitative"},
  "y": {"field": "a", "type": "quantitative", "aggregate": "mean"}}}
]},
{"width": 39, "height": 198, "data": {"values": [{"t": "VGMM−CV"}]}, "view": {"fill": "#D9D9D9", "stroke": "#333333", "strokeWidth": 2.1}, "mark": {"type": "text", "fontSize": 17.6, "color": "#1A1A1A", "angle": 90}, "encoding": {"text": {"field": "t"}}}
]
}
